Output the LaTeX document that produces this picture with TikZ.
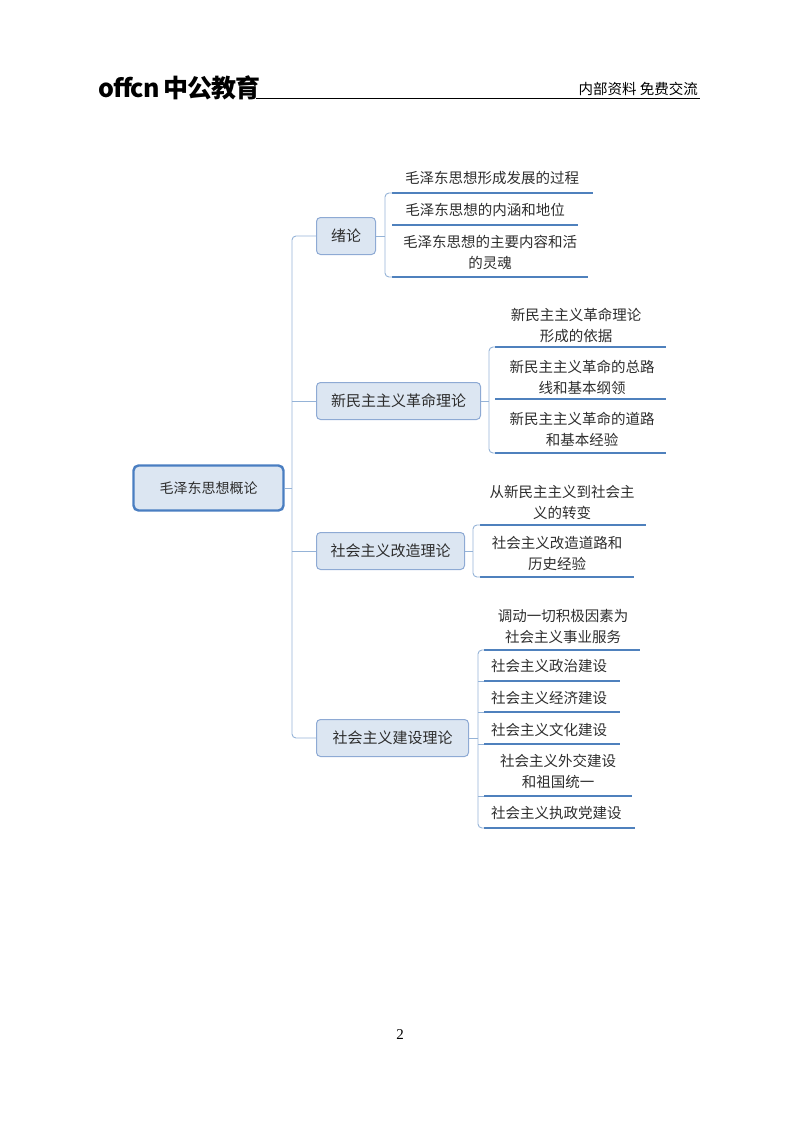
\documentclass[tikz,border=0pt]{standalone}
\usepackage{fontspec}
\setmainfont{Noto Sans CJK SC}
\newfontfamily\serifnum{Liberation Serif}
\definecolor{boxfill}{RGB}{220,230,242}
\definecolor{boxline}{RGB}{142,170,212}
\definecolor{rootline}{RGB}{74,126,193}
\definecolor{ulcol}{RGB}{79,129,189}
\definecolor{brcol}{RGB}{149,179,215}
\definecolor{tcol}{RGB}{45,45,45}
\begin{document}
\begin{tikzpicture}[x=1pt,y=-1pt,
  txt/.style={font=\fontsize{14.5}{21}\selectfont, text=tcol, align=center, inner sep=0pt},
  lvl/.style={draw=boxline, line width=1pt, fill=boxfill, rounded corners=4pt, font=\fontsize{15}{18}\selectfont, text=tcol, inner sep=0pt, minimum height=37pt},
  rootbox/.style={draw=rootline, line width=2.4pt, fill=boxfill, rounded corners=5pt, font=\fontsize{14}{18}\selectfont, text=tcol, inner sep=0pt, minimum height=45pt, minimum width=150pt},
  ul/.style={draw=ulcol, line width=1.6pt},
  br/.style={draw=brcol, line width=0.9pt, rounded corners=4pt}]
\useasboundingbox (0,0) rectangle (800,1124);
% header
\node[anchor=base west, inner sep=0pt, font=\fontsize{25}{25}\selectfont\bfseries] (logo) at (98,97) {\addfontfeature{LetterSpace=-4}offcn\,中公教育};
\node[anchor=base east, inner sep=0pt, font=\fontsize{14.5}{14}\selectfont] (hdr) at (698,94) {内部资料\ 免费交流};
\coordinate (hl) at (256,98);
\coordinate (hr) at (700,98);
\draw[line width=0.8pt] (hl) -- (hr);
\node[font=\serifnum\fontsize{15}{15}\selectfont] (pg) at (400,1035) {2};
% root
\node[rootbox] (root) at (208.5,488) {毛泽东思想概论};
% level 1
\node[lvl, anchor=west, minimum width=59pt] (a) at (316,236) {绪论};
\node[lvl, anchor=west, minimum width=164pt] (b) at (316,401) {新民主主义革命理论};
\node[lvl, anchor=west, minimum width=148pt] (c) at (316,551) {社会主义改造理论};
\node[lvl, anchor=west, minimum width=152pt] (d) at (316,738) {社会主义建设理论};
\coordinate (tt) at (292,236);
\coordinate (tb) at (292,738);
\draw[br] (root.east) -- (292,488);
\draw[br] (a.west) -- (tt) -- (tb) -- (d.west);
\draw[br] (b.west) -- (292,401);
\draw[br] (c.west) -- (292,551);
% a children
\node[txt] (a1) at (492,178) {毛泽东思想形成发展的过程};
\node[txt] (a2) at (485,210) {毛泽东思想的内涵和地位};
\node[txt] (a3) at (490,252) {毛泽东思想的主要内容和活\\的灵魂};
\draw[ul] (392,193) -- (593,193);
\draw[ul] (392,225) -- (578,225);
\draw[ul] (392,277) -- (588,277);
\draw[br] (a.east) -- (385,236);
\draw[br] (392,193) -- (385,193) -- (385,277) -- (392,277);
% b children
\node[txt] (b1) at (576,325) {新民主主义革命理论\\形成的依据};
\node[txt] (b2) at (582,377) {新民主主义革命的总路\\线和基本纲领};
\node[txt] (b3) at (582,429) {新民主主义革命的道路\\和基本经验};
\draw[ul] (495,347) -- (666,347);
\draw[ul] (495,399) -- (666,399);
\draw[ul] (495,453) -- (666,453);
\draw[br] (b.east) -- (489,401);
\draw[br] (495,347) -- (489,347) -- (489,453) -- (495,453);
% c children
\node[txt] (c1) at (562,502) {从新民主主义到社会主\\义的转变};
\node[txt] (c2) at (557,553) {社会主义改造道路和\\历史经验};
\draw[ul] (480,525) -- (646,525);
\draw[ul] (480,577) -- (634,577);
\draw[br] (c.east) -- (473,551);
\draw[br] (480,525) -- (473,525) -- (473,577) -- (480,577);
% d children
\node[txt] (d1) at (563,626) {调动一切积极因素为\\社会主义事业服务};
\node[txt, anchor=west] (d2) at (491,666) {社会主义政治建设};
\node[txt, anchor=west] (d3) at (491,698) {社会主义经济建设};
\node[txt, anchor=west] (d4) at (491,730) {社会主义文化建设};
\node[txt] (d5) at (558,771) {社会主义外交建设\\和祖国统一};
\node[txt, anchor=west] (d6) at (491,813) {社会主义执政党建设};
\draw[ul] (484,650) -- (640,650);
\draw[ul] (484,681) -- (620,681);
\draw[ul] (484,712) -- (620,712);
\draw[ul] (484,744) -- (620,744);
\draw[ul] (484,796) -- (632,796);
\draw[ul] (484,828) -- (635,828);
\draw[br] (d.east) -- (478,738);
\draw[br] (484,650) -- (478,650) -- (478,828) -- (484,828);
\foreach \y in {681,712,744,796} \draw[br] (478,\y) -- (484,\y);
\end{tikzpicture}
\end{document}
